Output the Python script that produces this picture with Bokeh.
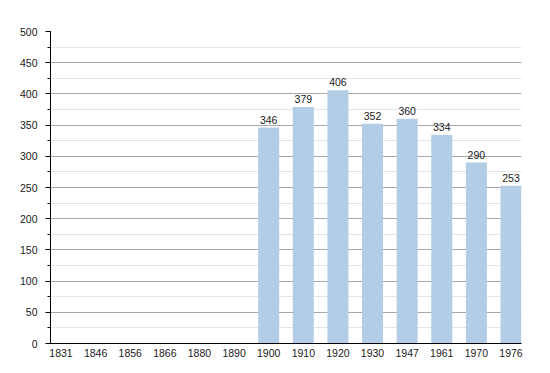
from bokeh.plotting import figure
from bokeh.models import FactorRange, Range1d, SingleIntervalTicker, ColumnDataSource
from bokeh.embed import file_html
from bokeh.resources import INLINE
from bokeh.core.properties import value

years = ["1831", "1846", "1856", "1866", "1880", "1890", "1900", "1910",
         "1920", "1930", "1947", "1961", "1970", "1976"]
population = [None, None, None, None, None, None, 346, 379, 406, 352, 360, 334, 290, 253]

bar_years = [y for y, v in zip(years, population) if v is not None]
bar_values = [v for v in population if v is not None]
src = ColumnDataSource(data=dict(x=bar_years, top=bar_values,
                                 label=[str(v) for v in bar_values]))

FONT = "Liberation Sans"
FS = "10.5px"

xr = FactorRange(*years, range_padding=-0.1965, range_padding_units="absolute")

p = figure(width=550, height=373, output_backend="svg", toolbar_location=None,
           x_range=xr, y_range=Range1d(0, 500),
           min_border_left=50, min_border_right=29, min_border_top=31,
           min_border_bottom=30)
p.outline_line_color = None
p.background_fill_color = "white"
p.border_fill_color = "white"

p.vbar(x="x", top="top", width=0.607, bottom=0, source=src,
       fill_color="#b3cde6", line_color=None)
p.text(x="x", y="top", text="label", source=src, y_offset=-4,
       text_align="center", text_baseline="bottom", text_font_size=FS,
       text_font=value(FONT), text_color="#1a1a1a")

# y axis
p.yaxis.ticker = SingleIntervalTicker(interval=50, num_minor_ticks=2)
p.yaxis.axis_line_color = "black"
p.yaxis.major_tick_line_color = "black"
p.yaxis.minor_tick_line_color = "black"
p.yaxis.major_tick_out = 5
p.yaxis.major_tick_in = 0
p.yaxis.minor_tick_out = 3
p.yaxis.minor_tick_in = 0
p.yaxis.major_label_standoff = 8
p.yaxis.major_label_text_font = FONT
p.yaxis.major_label_text_font_size = FS
p.yaxis.major_label_text_color = "#1a1a1a"

# x axis
p.xaxis.axis_line_color = "black"
p.xaxis.major_tick_line_color = None
p.xaxis.minor_tick_line_color = None
p.xaxis.major_tick_out = 0
p.xaxis.major_tick_in = 0
p.xaxis.major_label_standoff = 5
p.xaxis.major_label_text_font = FONT
p.xaxis.major_label_text_font_size = FS
p.xaxis.major_label_text_color = "#1a1a1a"

# grids
p.xgrid.grid_line_color = None
p.ygrid.grid_line_color = "#a8a8a8"
p.ygrid.minor_grid_line_color = "#e4e4e4"

open("out.html", "w").write(file_html(p, INLINE))
